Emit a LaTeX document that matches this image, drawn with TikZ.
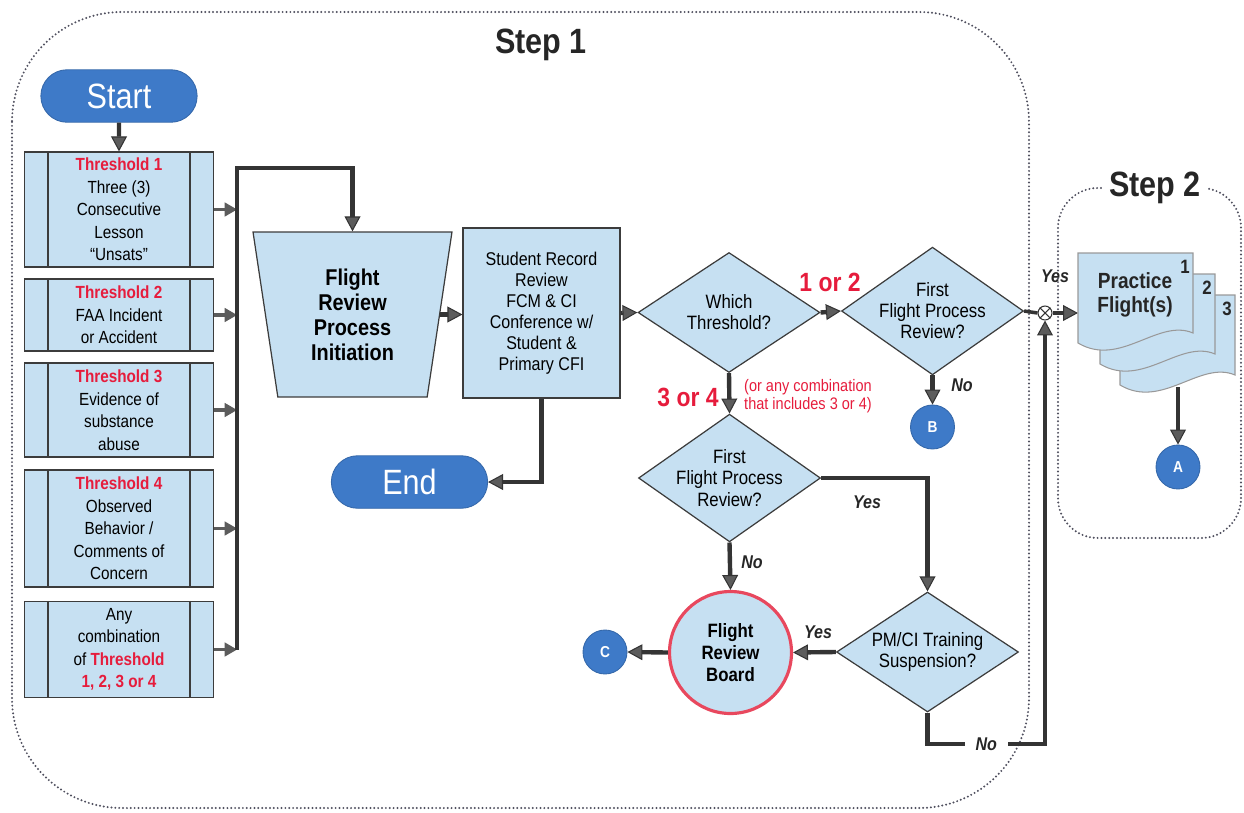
\documentclass[tikz,border=0pt]{standalone}
\usepackage{fontspec}
\setmainfont{Liberation Sans}[FakeStretch=0.87]
\usepackage{xcolor}
\usetikzlibrary{arrows.meta,shapes.geometric,shapes.misc,positioning}

\definecolor{boxblue}{RGB}{198,224,242}
\definecolor{pillblue}{RGB}{62,122,200}
\definecolor{threshred}{RGB}{230,28,60}
\definecolor{boardred}{RGB}{232,72,94}
\definecolor{lineg}{RGB}{52,52,52}
\definecolor{arrowg}{RGB}{92,92,92}
\definecolor{edgeg}{RGB}{60,60,60}
\definecolor{dotg}{RGB}{80,80,95}

\newcommand{\threshtxt}[1]{\textcolor{threshred}{\textbf{#1}}}

\tikzset{
  stepframe/.style={draw=dotg, line width=1.25pt, dash pattern=on 0pt off 2.2pt, line cap=round},
  steptitle/.style={font=\bfseries\fontsize{20}{24}\selectfont, text=black!85},
  terminal/.style={rounded rectangle, fill=pillblue, draw=pillblue!85!black, line width=0.5pt,
    text=white, minimum width=3.36cm, minimum height=1.05cm, font=\fontsize{20}{24}\selectfont},
  threshbox/.style={rectangle, draw=edgeg, line width=0.7pt, fill=boxblue, minimum width=3.78cm,
    inner sep=0pt, align=center, font=\fontsize{10}{12.8}\selectfont},
  boxedge/.style={draw=edgeg, line width=0.7pt},
  initbox/.style={trapezium, trapezium angle=76.5, shape border rotate=180, trapezium stretches body,
    draw=edgeg, line width=0.7pt, fill=boxblue, minimum width=3.98cm, minimum height=3.3cm,
    align=center, font=\bfseries\fontsize{13}{14.2}\selectfont},
  recordbox/.style={rectangle, draw=edgeg, line width=0.7pt, fill=boxblue, minimum width=3.14cm,
    minimum height=3.4cm, align=center, font=\fontsize{10.5}{12}\selectfont},
  decision/.style={diamond, draw=edgeg, line width=0.7pt, fill=boxblue, minimum width=3.64cm,
    minimum height=2.4cm, inner sep=-5pt, align=center, font=\fontsize{11}{12}\selectfont},
  boardnode/.style={circle, draw=boardred, line width=1.8pt, fill=boxblue, minimum size=2.44cm,
    align=center, font=\bfseries\fontsize{11}{12.5}\selectfont},
  offpage/.style={circle, fill=pillblue, draw=pillblue!85!black, line width=0.5pt, text=white,
    minimum size=0.88cm, inner sep=0pt, font=\bfseries\fontsize{9}{10}\selectfont},
  mergenode/.style={circle, draw=lineg, fill=white, line width=0.6pt, minimum size=0.28cm, inner sep=0pt},
  pagestyle/.style={draw=gray!80, line width=0.6pt, fill=boxblue},
  pagenum/.style={font=\bfseries\fontsize{11}{12}\selectfont, text=black!85},
  practicetext/.style={align=center, font=\bfseries\fontsize{12.5}{13.7}\selectfont, text=black!85},
  flowline/.style={draw=lineg, line width=2.5pt},
  flowarrow/.style={flowline, -{Triangle[length=8.5pt,width=9pt,line width=0.6pt,fill=arrowg]}},
  smallarrow/.style={draw=arrowg, line width=2pt, -{Triangle[length=7pt,width=8pt,line width=0.6pt,fill=arrowg]}},
  yesno/.style={font=\bfseries\itshape\fontsize{10.5}{12}\selectfont, text=black!85},
  redlabel/.style={font=\bfseries\fontsize{15}{16}\selectfont, text=threshred},
  comblabel/.style={align=left, font=\fontsize{9.5}{10.5}\selectfont, text=threshred},
}

\begin{document}
\begin{tikzpicture}[x=0.02cm, y=-0.02cm]
    \useasboundingbox (0,0) rectangle (1244,812);

    % Step frames
    \draw[stepframe, rounded corners=2.2cm] (12,12) rectangle (1029,808);
    \draw[stepframe, rounded corners=0.8cm] (1058,188) rectangle (1241,538);
    \node[steptitle] (step1) at (541,45) {Step 1};
    \node[steptitle, fill=white, inner xsep=4pt] (step2) at (1155,188) {Step 2};

    % Start and the threshold boxes
    \node[terminal] (start) at (119,96) {Start};
    \node[threshbox, minimum height=2.3cm] (t1) at (119,209.5)
        {\threshtxt{Threshold 1}\\Three (3)\\Consecutive\\Lesson\\“Unsats”};
    \node[threshbox, minimum height=1.44cm] (t2) at (119,315)
        {\threshtxt{Threshold 2}\\FAA Incident\\or Accident};
    \node[threshbox, minimum height=1.88cm] (t3) at (119,410)
        {\threshtxt{Threshold 3}\\Evidence of\\substance\\abuse};
    \node[threshbox, minimum height=2.34cm] (t4) at (119,528.5)
        {\threshtxt{Threshold 4}\\Observed\\Behavior /\\Comments of\\Concern};
    \node[threshbox, minimum height=1.92cm] (t5) at (119,649.5)
        {Any\\combination\\of \threshtxt{Threshold}\\\threshtxt{1, 2, 3 or 4}};
    \draw[flowarrow] (start) -- (t1);

    % Collecting line
    \coordinate (bustop) at (237,168);
    \coordinate (busbot) at (237,650);
    \foreach \tb in {t1,t2,t3,t4,t5} {
        \draw[boxedge] ([xshift=0.48cm]\tb.north west) -- ([xshift=0.48cm]\tb.south west);
        \draw[boxedge] ([xshift=-0.48cm]\tb.north east) -- ([xshift=-0.48cm]\tb.south east);
        \draw[smallarrow] (\tb.east) -- (\tb.east -| bustop);
    }

    % Initiation and record review
    \node[initbox] (init) at (352.5,314.5) {Flight\\Review\\Process\\Initiation};
    \draw[flowarrow] (busbot) -- (bustop) -| (init.north);
    \node[recordbox] (record) at (541.5,313)
        {Student Record\\Review\\FCM \& CI\\Conference w/\\Student \&\\Primary CFI};
    \draw[flowarrow] (init.east) -- (init.east -| record.west);
    \node[terminal] (endnode) at (409.5,482) {End};
    \draw[flowarrow] (record.south) |- (endnode.east);

    % Which threshold
    \node[decision] (which) at (729,312.5) {Which\\Threshold?};
    \draw[flowarrow] (record.east) -- (which.west);
    \node[decision] (review1) at (932.5,311) {First\\Flight Process\\Review?};
    \draw[flowarrow] (which.east) -- (review1.west);
    \node[redlabel] (oneortwo) at (830,282) {1 or 2};
    \node[offpage] (conB) at (932.5,427) {B};
    \draw[flowarrow] (review1.south) -- (conB.north);
    \node[yesno] (noB) at (962,385) {No};

    % Merge into step 2
    \node[mergenode] (merge) at (1045,313) {};
    \draw[line width=0.6pt, draw=lineg] (merge.north east) -- (merge.south west)
        (merge.north west) -- (merge.south east);
    \draw[flowline, line width=2pt] (review1.east) -- (merge.west);
    \coordinate (pgin) at (1078,313);
    \draw[flowarrow, line width=2pt] (merge.east) -- (pgin);
    \node[yesno] (yesmerge) at (1055,276) {Yes};

    % Practice flights
    \foreach \dx/\dy/\num in {42/42/3, 22/21/2, 0/0/1} {
        \begin{scope}[shift={(\dx,\dy)}]
            \draw[pagestyle] (1078,253) -- (1193,253) -- (1193,333)
                .. controls (1158,318) and (1120,368) .. (1078,343) -- cycle;
            \node[pagenum] (pnum\num) at (1185,267) {\num};
        \end{scope}
    }
    \node[practicetext] (practice) at (1135,295) {Practice\\Flight(s)};
    \coordinate (pgout) at (1178,387);
    \node[offpage] (conA) at (1178,467) {A};
    \draw[flowarrow] (pgout) -- (conA.north);

    % Threshold 3 or 4
    \node[decision] (review2) at (729.5,478) {First\\Flight Process\\Review?};
    \draw[flowarrow] (which.south) -- (review2.north);
    \node[redlabel] (threeorfour) at (688,397) {3 or 4};
    \node[comblabel, anchor=west] (comb) at (738,396) {(or any combination\\that includes 3 or 4)};

    \node[boardnode] (board) at (730.5,652.5) {Flight\\Review\\Board};
    \draw[flowarrow] (review2.south) -- (board.north);
    \node[yesno] (noboard) at (752,562) {No};

    \node[decision] (pmci) at (927.5,652) {PM/CI Training\\Suspension?};
    \draw[flowarrow] (review2.east) -| (pmci.north);
    \node[yesno] (yespm) at (867,502) {Yes};
    \draw[flowarrow] (pmci.west) -- (board.east);
    \node[yesno] (yesboard) at (818,632) {Yes};
    \node[offpage] (conC) at (605,652) {C};
    \draw[flowarrow] (board.west) -- (conC.east);

    % Back to the merge
    \coordinate (nocorner) at (1045,744);
    \draw[flowarrow] (pmci.south) |- (nocorner)
        node[yesno, pos=0.75, fill=white, inner xsep=6pt] (nobottom) {No} -- (merge.south);
\end{tikzpicture}
\end{document}
